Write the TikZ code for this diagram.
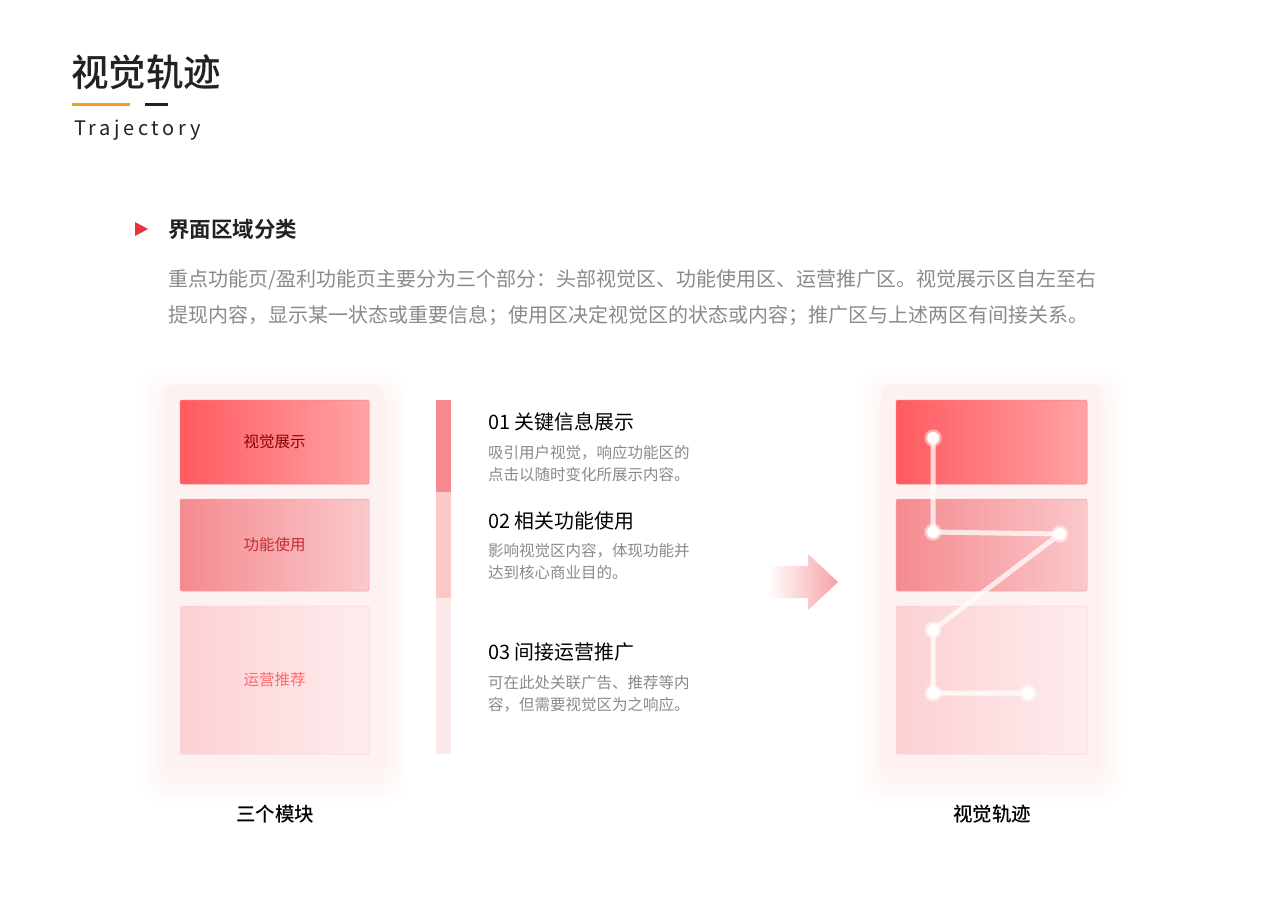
\documentclass[tikz,border=0pt]{standalone}
\usepackage{fontspec}
\setmainfont{Noto Sans CJK SC}
\newfontfamily\cjkb{Noto Sans CJK SC Bold}
\newfontfamily\cjkm{Noto Sans CJK SC Medium}
\definecolor{tdark}{HTML}{222222}
\definecolor{torange}{HTML}{F5A01A}
\definecolor{tgray}{HTML}{8A8A8A}
\definecolor{tred}{HTML}{E8343C}
\definecolor{panel}{HTML}{FDF1F2}
\definecolor{ra}{HTML}{FF5A5F}\definecolor{rb}{HTML}{FFA3A6}
\definecolor{ma}{HTML}{F48A8F}\definecolor{mb}{HTML}{FBC8CA}
\definecolor{la}{HTML}{FCD0D3}\definecolor{lb}{HTML}{FEEDEE}
\tikzset{x=1pt,y=-1pt,
 panelbox/.style={fill=panel,rounded corners=8pt},
 boxa/.style={left color=ra,right color=rb,draw=ra!80,line width=0.5pt,rounded corners=2pt},
 boxb/.style={left color=ma,right color=mb,draw=ma!80,line width=0.5pt,rounded corners=2pt},
 boxc/.style={left color=la,right color=lb,draw=la,line width=0.5pt,rounded corners=2pt},
 head/.style={anchor=west,font=\fontsize{19.9}{22}\selectfont,text=black},
 desc/.style={anchor=north west,font=\fontsize{15.5}{22}\selectfont,text=tgray,align=left},
 lab/.style={font=\fontsize{15.5}{16}\selectfont},
 captext/.style={font=\cjkm\fontsize{19.5}{22}\selectfont,text=black},
 trail/.style={draw=white,opacity=0.75,line width=5pt},
 dot/.style={circle,fill=white,draw=white,draw opacity=0.5,line width=5pt,minimum size=12pt,inner sep=0pt}}
\newcommand{\glowpanel}[4]{%
 \foreach \k in {1,...,12}{\fill[red!30,opacity=0.012,rounded corners=20pt] (#1-2*\k,#2-2*\k+8) rectangle (#3+2*\k,#4+2*\k+8);}
 \fill[panelbox] (#1,#2) rectangle (#3,#4);}
\begin{document}
\begin{tikzpicture}
\useasboundingbox (0,0) rectangle (1280,900);
\fill[white] (0,0) rectangle (1280,900);
\node[anchor=west,inner sep=0pt,font=\cjkm\fontsize{37.5}{40}\selectfont,text=tdark] (title) at (71,72) {视觉轨迹};
\fill[torange] (72,102.5) rectangle (130,106);
\fill[tdark] (145,102.5) rectangle (168,106);
\node[anchor=west,inner sep=0pt,font=\fontsize{20}{24}\selectfont\addfontfeature{LetterSpace=18},text=tdark] (sub) at (74,130) {Trajectory};
\fill[tred] (135,222) -- (148,229) -- (135,236) -- cycle;
\node[anchor=west,inner sep=0pt,font=\cjkb\fontsize{21.5}{24}\selectfont,text=tdark] (sec) at (168,229) {界面区域分类};
\node[anchor=north west,inner sep=0pt,font=\fontsize{20}{36}\selectfont,text=tgray,align=left] (para) at (168,269) {重点功能页/盈利功能页主要分为三个部分：头部视觉区、功能使用区、运营推广区。视觉展示区自左至右\\提现内容，显示某一状态或重要信息；使用区决定视觉区的状态或内容；推广区与上述两区有间接关系。};
% left panel
\glowpanel{165}{385}{384}{770}
\draw[boxa] (180,400) rectangle (369,484);
\draw[boxb] (180,499) rectangle (369,591);
\draw[boxc] (180,606) rectangle (369,754);
\node[lab,text=red!55!black] (l1) at (274.5,442) {视觉展示};
\node[lab,text=tred!85!black] (l2) at (274.5,545) {功能使用};
\node[lab,text=ra!90] (l3) at (274.5,680) {运营推荐};
\node[captext] (c1) at (275,814) {三个模块};
% bar
\fill[ma] (436,400) rectangle (451,492);
\fill[mb] (436,492) rectangle (451,598);
\fill[lb!80!la] (436,598) rectangle (451,754);
\node[head,inner sep=0pt] (h1) at (488,422) {01 关键信息展示};
\node[desc,inner sep=0pt] (d1) at (488,445) {吸引用户视觉，响应功能区的\\点击以随时变化所展示内容。};
\node[head,inner sep=0pt] (h2) at (488,521) {02 相关功能使用};
\node[desc,inner sep=0pt] (d2) at (488,543) {影响视觉区内容，体现功能并\\达到核心商业目的。};
\node[head,inner sep=0pt] (h3) at (488,652) {03 间接运营推广};
\node[desc,inner sep=0pt] (d3) at (488,675) {可在此处关联广告、推荐等内\\容，但需要视觉区为之响应。};
% arrow
\shade[left color=white,right color=ma!80] (768,566) -- (808,566) -- (808,554) -- (838,582) -- (808,610) -- (808,598) -- (768,598) -- cycle;
% right panel
\glowpanel{882}{385}{1101}{770}
\draw[boxa] (896,400) rectangle (1087,484);
\draw[boxb] (896,499) rectangle (1087,591);
\draw[boxc] (896,606) rectangle (1087,754);
\coordinate (q1) at (933,438);
\coordinate (q2) at (933,532);
\coordinate (q3) at (1060,534);
\coordinate (q4) at (933,630);
\coordinate (q5) at (933,693);
\coordinate (q6) at (1028,693);
\draw[trail] (q1) -- (q2) -- (q3) -- (q4) -- (q5) -- (q6);
\foreach \i in {1,...,6} {\node[dot] (p\i) at (q\i) {};}
\node[captext] (c2) at (992,814) {视觉轨迹};
\end{tikzpicture}
\end{document}
